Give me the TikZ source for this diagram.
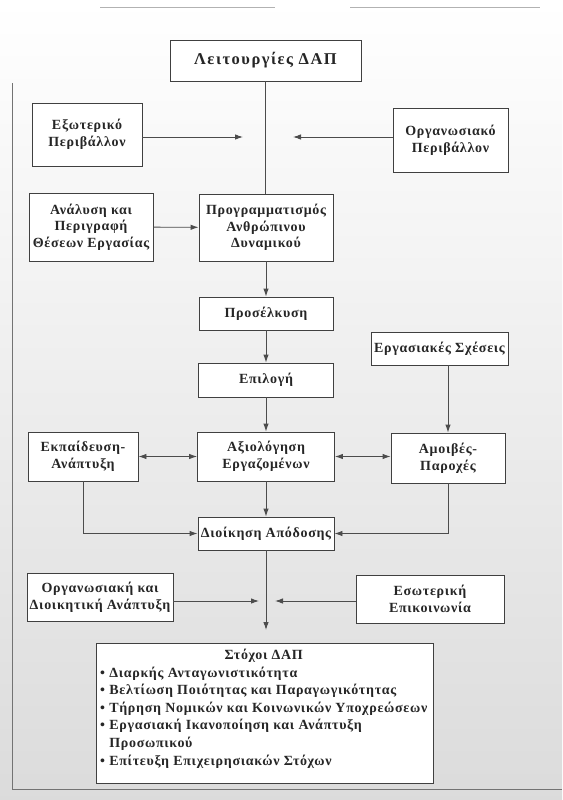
\documentclass[tikz,border=0pt]{standalone}
\usepackage{fontspec}
\setmainfont{Liberation Serif}[LetterSpace=5]
\newfontfamily\titlefont{Liberation Serif}[LetterSpace=9]
\usetikzlibrary{arrows.meta}
\begin{document}
\begin{tikzpicture}[x=1pt,y=-1pt,
  box/.style={draw=black!75,line width=0.9pt,fill=white,align=center,inner sep=2pt,
    font=\fontsize{14}{16.7}\selectfont\bfseries,text=black!85},
  conn/.style={draw=black!70,line width=0.9pt},
  arr/.style={conn,-{Latex[length=8pt,width=5.5pt]}},
  darr/.style={conn,{Latex[length=8pt,width=5.5pt]}-{Latex[length=8pt,width=5.5pt]}}]
\useasboundingbox (0,0) rectangle (562,800);
\shade[top color=white, bottom color=black!14] (0,0) rectangle (562,800);
\draw[black!55,line width=1pt] (12,83) -- (12,789) -- (562,789);
\draw[black!30,line width=0.8pt] (100,7) -- (275,7) (350,7) -- (540,7);
% nodes
\node[box,minimum width=191pt,minimum height=41pt,font=\titlefont\fontsize{16.5}{18}\selectfont\bfseries] (title) at (265.5,60.5) {Λειτουργίες ΔΑΠ};
\node[box,minimum width=110pt,minimum height=63pt] (ext) at (87,134.5) {Εξωτερικό\\Περιβάλλον};
\node[box,minimum width=115pt,minimum height=64pt] (org) at (450.5,140) {Οργανωσιακό\\Περιβάλλον};
\node[box,minimum width=124pt,minimum height=68pt] (anal) at (91,227) {Ανάλυση και\\Περιγραφή\\Θέσεων Εργασίας};
\node[box,minimum width=134pt,minimum height=67pt] (prog) at (266,227.5) {Προγραμματισμός\\Ανθρώπινου\\Δυναμικού};
\node[box,minimum width=134pt,minimum height=33pt] (prosel) at (266,313.5) {Προσέλκυση};
\node[box,minimum width=137pt,minimum height=33pt] (erg) at (439.5,348.5) {Εργασιακές Σχέσεις};
\node[box,minimum width=135pt,minimum height=34pt] (epil) at (266,380) {Επιλογή};
\node[box,minimum width=110pt,minimum height=49pt] (ekp) at (83,456.5) {Εκπαίδευση-\\Ανάπτυξη};
\node[box,minimum width=137pt,minimum height=49pt] (axi) at (266,456.5) {Αξιολόγηση\\Εργαζομένων};
\node[box,minimum width=114pt,minimum height=50pt] (amo) at (448,458) {Αμοιβές-\\Παροχές};
\node[box,minimum width=136pt,minimum height=33pt] (dio) at (266,533.5) {Διοίκηση Απόδοσης};
\node[box,minimum width=146pt,minimum height=48pt] (orgd) at (100,597) {Οργανωσιακή και\\Διοικητική Ανάπτυξη};
\node[box,minimum width=148pt,minimum height=48pt] (eso) at (430,599) {Εσωτερική\\Επικοινωνία};
\node[box,minimum width=337pt,minimum height=140pt] (stoch) at (264.5,713) {};
\node[anchor=north west,inner sep=0pt,align=left,font=\fontsize{14}{17.6}\selectfont\bfseries,text=black!85] (stochtext) at (100,647)
 {\begin{tabular}{@{}l@{}}\multicolumn{1}{c}{Στόχοι ΔΑΠ}\\
 • Διαρκής Ανταγωνιστικότητα\\
 • Βελτίωση Ποιότητας και Παραγωγικότητας\\
 • Τήρηση Νομικών και Κοινωνικών Υποχρεώσεων\\
 • Εργασιακή Ικανοποίηση και Ανάπτυξη\\
 \phantom{• }Προσωπικού\\
 • Επίτευξη Επιχειρησιακών Στόχων
 \end{tabular}};
% coordinates
\coordinate (extend) at (243,137);
\coordinate (orgend) at (293,137);
\coordinate (orgdend) at (259,601);
\coordinate (esoend) at (275,601);
\coordinate (stochend) at (266,630);
% connectors
\draw[conn] (title.south) -- (title.south |- prog.north);
\draw[arr] (ext.east |- extend) -- (extend);
\draw[arr] (org.west |- orgend) -- (orgend);
\draw[arr] (anal) -- (prog);
\draw[arr] (prog) -- (prosel);
\draw[arr] (prosel) -- (epil);
\draw[arr] (epil) -- (axi);
\draw[arr] (erg.south -| amo.north) -- (amo.north);
\draw[darr] (ekp.east) -- (axi.west);
\draw[darr] (axi.east) -- (amo.west |- axi.east);
\draw[arr] (axi) -- (dio);
\draw[arr] (ekp.south) |- (dio.west);
\draw[arr] (amo.south) |- (dio.east);
\draw[arr] (dio.south) -- (stochend);
\draw[arr] (orgd.east |- orgdend) -- (orgdend);
\draw[arr] (eso.west |- esoend) -- (esoend);
\end{tikzpicture}
\end{document}
